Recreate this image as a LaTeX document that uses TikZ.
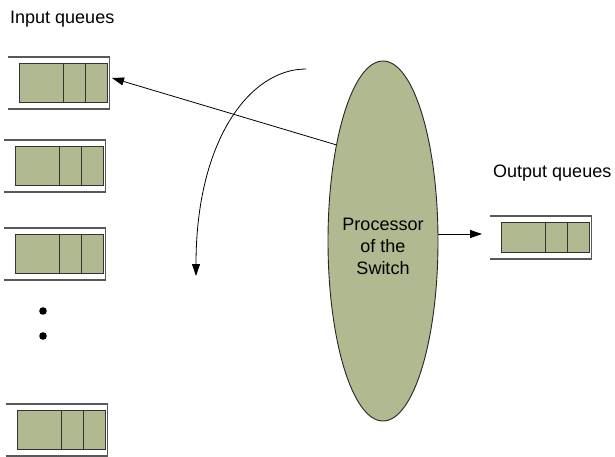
\documentclass[tikz,border=0pt]{standalone}
\usepackage{fontspec}
\setmainfont{Liberation Sans}
\usetikzlibrary{shapes.geometric,arrows.meta}
\definecolor{qgreen}{RGB}{176,185,144}
\tikzset{
  cell/.style={draw=black!80, line width=0.9pt, fill=qgreen},
  bracket/.style={draw=black!65, line width=1.1pt},
  arr/.style={-{Triangle[length=12pt,width=8pt]}, line width=0.8pt},
  lbl/.style={font=\fontsize{18}{22}\selectfont, inner sep=0pt}
}
\begin{document}
\begin{tikzpicture}[x=1pt,y=-1pt]
\useasboundingbox (0,0) rectangle (615,457);
% queues: name / inner left / top line / inner height
\foreach \n/\x/\y/\h in {qa/19/57/39, qb/15/140/39, qc/15/228/39, qd/17/404/39, qout/501/216/30}{
  \draw[bracket] (\x-11,\y) -- (\x+90.5,\y) -- (\x+90.5,\y+\h+13) -- (\x-11,\y+\h+13);
  \draw[cell] (\x,\y+6.5) rectangle (\x+88,\y+6.5+\h);
  \draw[cell,fill=none] (\x+44,\y+6.5) -- (\x+44,\y+6.5+\h) (\x+66,\y+6.5) -- (\x+66,\y+6.5+\h);
  \coordinate (\n) at (\x+93,\y+21);
}
\fill (43,311) circle [radius=3.8pt];
\fill (43,336) circle [radius=3.8pt];
\node[lbl, anchor=base west] (inlbl) at (10,24) {Input queues};
\node[lbl, anchor=base west] (outlbl) at (493,178) {Output queues};
% processor
\node[ellipse, draw=black!85, line width=0.9pt, fill=qgreen, minimum width=110pt, minimum height=360pt, inner sep=0pt] (proc) at (383,241) {};
\node[lbl, align=center] (proctxt) at (383,246) {Processor\\of the\\Switch};
\coordinate (outin) at (482,234);
\coordinate (cs) at (306,69);
\coordinate (ce) at (196,276);
\draw[arr] (proc.116.8) -- (qa);
\draw[arr] (outin -| proc.east) -- (outin);
\draw[arr] (cs) .. controls (250,69) and (196,140) .. (ce);
\end{tikzpicture}
\end{document}
